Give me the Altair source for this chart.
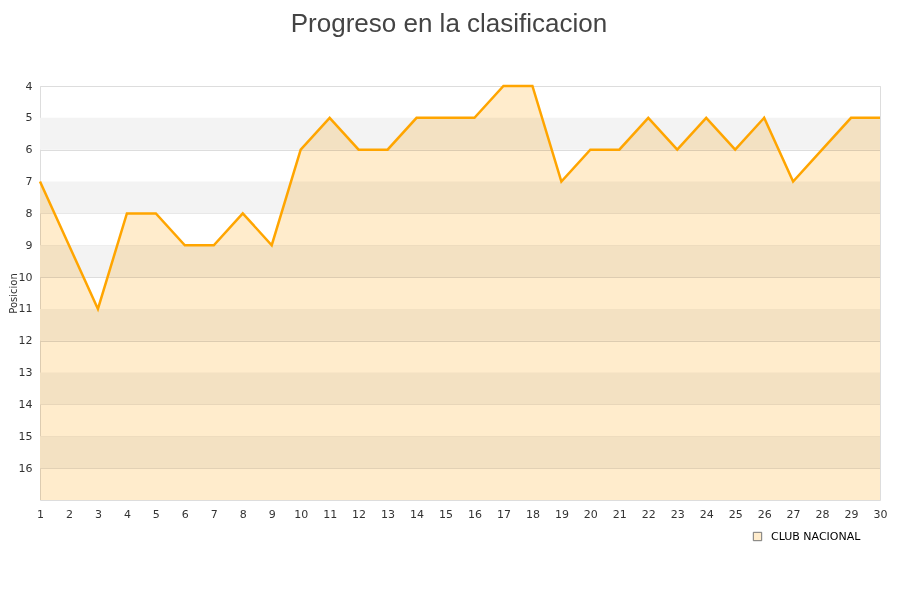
import altair as alt
import pandas as pd

jornadas = list(range(1, 31))
posiciones = [7, 9, 11, 8, 8, 9, 9, 8, 9, 6, 5, 6, 6, 5, 5, 5, 4, 4, 7, 6, 6, 5, 6, 5, 6, 5, 7, 6, 5, 5]
equipo = "CLUB NACIONAL"
band_starts = [5, 7, 9, 11, 13, 15]
y_ticks = list(range(4, 17))
y_min, y_max = 4, 17

df = pd.DataFrame({"Jornada": jornadas, "Posicion": posiciones, "base": [y_max] * len(jornadas), "Equipo": [equipo] * len(jornadas)})
bands = pd.DataFrame({"y1": band_starts, "y2": [b + 1 for b in band_starts]})

FONT = "DejaVu Sans"

xscale = alt.Scale(domain=[1, 30], nice=False, zero=False)
yscale = alt.Scale(domain=[y_min, y_max], reverse=True, nice=False, zero=False)

yaxis = alt.Axis(values=y_ticks, ticks=False, domain=False, grid=True, gridColor="#dddddd",
                 labelOverlap=False, labelFont=FONT, labelFontSize=11, labelColor="#333333", labelPadding=8,
                 titleFont=FONT, titleFontSize=10, titleFontWeight="normal", titleColor="#333333", titlePadding=0)
xaxis = alt.Axis(values=jornadas, ticks=False, domain=False, grid=False, labelOverlap=False,
                 labelFont=FONT, labelFontSize=11, labelColor="#333333", labelPadding=8, labelFlush=False)

band_layer = alt.Chart(bands).mark_rect(color="#f3f3f3").encode(
    y=alt.Y("y1:Q", scale=yscale, title="Posicion", axis=yaxis),
    y2="y2:Q",
    x=alt.value(0),
    x2=alt.value(840),
)

area = alt.Chart(df).mark_area(opacity=1, blend="multiply").encode(
    x=alt.X("Jornada:Q", scale=xscale, title=None, axis=xaxis),
    y=alt.Y("Posicion:Q", scale=yscale, title="Posicion", axis=yaxis),
    y2="base:Q",
    fill=alt.Fill("Equipo:N", scale=alt.Scale(range=["#FFECCC"]),
                  legend=alt.Legend(title=None, orient="none", legendX=712, legendY=445,
                                    symbolType="square", symbolSize=70,
                                    symbolStrokeColor="#777777", symbolStrokeWidth=1, symbolOpacity=1,
                                    labelOffset=8, labelFont=FONT, labelFontSize=11, labelColor="#000000")),
)

line = alt.Chart(df).mark_line(color="#FFA500", strokeWidth=2.5).encode(
    x=alt.X("Jornada:Q", scale=xscale, title=None, axis=xaxis),
    y=alt.Y("Posicion:Q", scale=yscale, title="Posicion", axis=yaxis),
)

chart = alt.layer(band_layer, area, line).properties(
    width=840,
    height=414,
    title=alt.TitleParams("Progreso en la clasificacion", font="Liberation Sans", fontSize=26,
                          fontWeight="normal", color="#444444", offset=43, dx=-11, anchor="middle"),
    autosize=alt.AutoSizeParams(type="none"),
    padding={"left": 32, "top": 78, "right": 12, "bottom": 80},
).resolve_axis(x="shared", y="shared").configure_axis(labelOverlap=False).configure_view(
    stroke="#dddddd", strokeWidth=1).configure(background="white")

chart.save("out.html", embed_options={"renderer": "svg", "actions": False})
